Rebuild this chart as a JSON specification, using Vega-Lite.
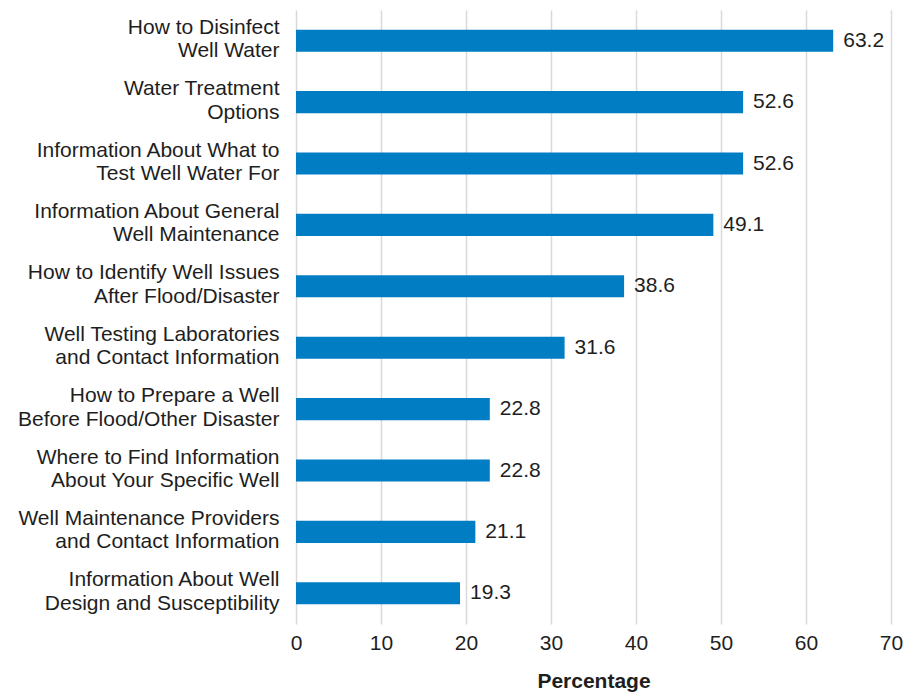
{
  "$schema": "https://vega.github.io/schema/vega-lite/v6.json",
  "width": 595,
  "height": 614,
  "autosize": {"type": "none"},
  "padding": {"left": 296, "top": 10, "right": 17, "bottom": 68},
  "background": "white",
  "config": {
    "view": {"stroke": null},
    "font": "Liberation Sans",
    "axis": {"labelFont": "Liberation Sans", "titleFont": "Liberation Sans", "labelColor": "#1e1e1e", "titleColor": "#1e1e1e"}
  },
  "data": {
    "values": [
      {"topic": "How to Disinfect|Well Water", "pct": 63.2},
      {"topic": "Water Treatment|Options", "pct": 52.6},
      {"topic": "Information About What to|Test Well Water For", "pct": 52.6},
      {"topic": "Information About General|Well Maintenance", "pct": 49.1},
      {"topic": "How to Identify Well Issues|After Flood/Disaster", "pct": 38.6},
      {"topic": "Well Testing Laboratories|and Contact Information", "pct": 31.6},
      {"topic": "How to Prepare a Well|Before Flood/Other Disaster", "pct": 22.8},
      {"topic": "Where to Find Information|About Your Specific Well", "pct": 22.8},
      {"topic": "Well Maintenance Providers|and Contact Information", "pct": 21.1},
      {"topic": "Information About Well|Design and Susceptibility", "pct": 19.3}
    ]
  },
  "encoding": {
    "y": {
      "field": "topic",
      "type": "nominal",
      "sort": null,
      "scale": {"paddingInner": 0.64, "paddingOuter": 0.32},
      "axis": {
        "title": null,
        "domain": false,
        "ticks": false,
        "labelPadding": 17,
        "labelFontSize": 21,
        "labelLineHeight": 23.5,
        "labelOffset": -13,
        "labelLimit": 400,
        "labelExpr": "split(datum.label, '|')"
      }
    },
    "x": {
      "field": "pct",
      "type": "quantitative",
      "scale": {"domain": [0, 70], "nice": false},
      "axis": {
        "title": "Percentage",
        "titleFontSize": 21,
        "titleFontWeight": "bold",
        "titlePadding": 17,
        "values": [0, 10, 20, 30, 40, 50, 60, 70],
        "domain": false,
        "ticks": false,
        "labelFlush": false,
        "labelPadding": 8,
        "labelFontSize": 21,
        "grid": true,
        "gridColor": "#d9d9d9",
        "gridWidth": 1.5
      }
    }
  },
  "layer": [
    {"mark": {"type": "bar", "color": "#007dc3"}},
    {
      "mark": {"type": "text", "align": "left", "baseline": "middle", "dx": 10, "fontSize": 21, "color": "#1e1e1e", "font": "Liberation Sans"},
      "encoding": {"text": {"field": "pct", "type": "quantitative", "format": ".1f"}}
    }
  ]
}
